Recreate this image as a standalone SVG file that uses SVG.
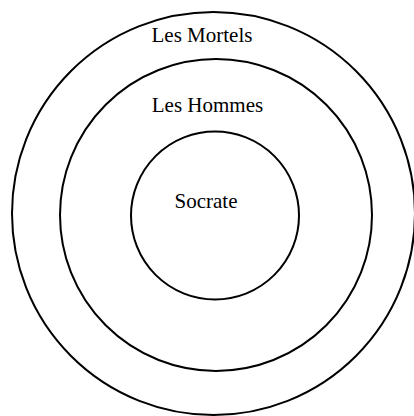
<svg xmlns="http://www.w3.org/2000/svg" width="414" height="416" viewBox="0 0 414 416">
<style>
.c{fill:none;stroke:#000;stroke-width:2}
.t{font-family:"Liberation Serif","Times New Roman",serif;font-size:21px;fill:#000;text-anchor:middle}
</style>
<rect width="414" height="416" fill="#fff"/>
<g id="mortels"><circle class="c" cx="213.5" cy="213.5" r="201.5"/><text class="t" x="202" y="41.5">Les Mortels</text></g>
<g id="hommes"><circle class="c" cx="216" cy="215" r="156"/><text class="t" x="207.5" y="112.3">Les Hommes</text></g>
<g id="socrate"><circle class="c" cx="215" cy="215.5" r="84"/><text class="t" x="206" y="208.3">Socrate</text></g>
<g id="connectors"/>
</svg>
